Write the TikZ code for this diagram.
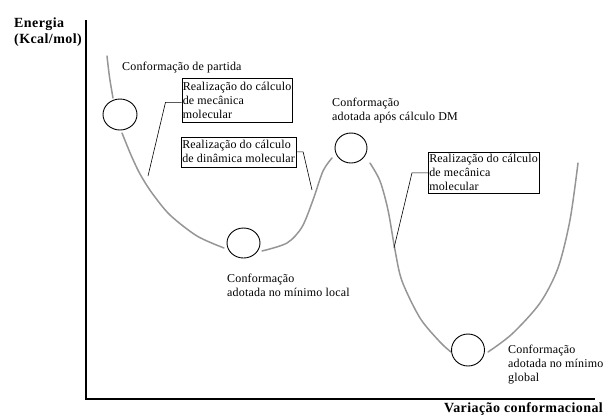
\documentclass[tikz,border=0pt]{standalone}
\usepackage{fontspec}
\setmainfont{Liberation Serif}
\newfontfamily\lblfont[LetterSpace=1.5]{Liberation Serif}
\newfontfamily\axfont[LetterSpace=3]{Liberation Serif}
\usetikzlibrary{shapes.geometric}
\definecolor{curvegray}{RGB}{150,150,150}
\tikzset{
  curve/.style={draw=curvegray, line width=1.5pt, line cap=round},
  well/.style={draw=black, line width=0.9pt, ellipse, inner sep=0pt},
  lbl/.style={anchor=north west, inner sep=0pt, align=left, font=\lblfont\fontsize{12}{14}\selectfont},
  callout/.style={draw=black, line width=0.6pt, anchor=north west, inner xsep=1pt, inner ysep=0pt, align=left, font=\lblfont\fontsize{12}{14}\selectfont},
  leader/.style={draw=black, line width=0.6pt},
  axis/.style={draw=black, line width=1.3pt},
  axlbl/.style={inner sep=0pt, align=left, font=\axfont\bfseries\fontsize{14}{16}\selectfont}
}
\begin{document}
\begin{tikzpicture}[x=1pt,y=-1pt]
\useasboundingbox (0,0) rectangle (605,416);
% axes
\coordinate (ytop) at (86,20);
\coordinate (orig) at (86,399);
\coordinate (xend) at (595,399);
\draw[axis] (ytop) -- (orig) -- (xend);
\node[axlbl, anchor=north west] (ylab) at (14,17.5) {Energia\\(Kcal/mol)};
\node[axlbl, anchor=base east] (xlab) at (603,412) {Variação conformacional};
% curve segments
\draw[curve] plot[smooth] coordinates {(107,56) (109.5,77) (113,98)};
\draw[curve] plot[smooth] coordinates {(122,133) (131,155) (140,174) (152,193) (170,215) (197,236) (224,248)};
\draw[curve] plot[smooth] coordinates {(262,251) (287,243) (302,227) (313,200) (323,171) (332,158)};
\draw[curve] plot[smooth] coordinates {(370,163) (380,181) (388,210) (395,250) (402,281) (420,318) (440,342) (451,352)};
\draw[curve] plot[smooth] coordinates {(488,352) (512,334) (540,303) (558,268) (570,220) (578,163)};
% circles
\node[well, minimum width=34pt, minimum height=31pt] (c1) at (120,114.5) {};
\node[well, minimum width=33pt, minimum height=30pt] (c2) at (243.5,243) {};
\node[well, minimum width=32pt, minimum height=30pt] (c3) at (351,148) {};
\node[well, minimum width=33pt, minimum height=32pt] (c4) at (468,350) {};
% labels
\node[lbl] (t0) at (122,62) {Conformação de partida};
\node[lbl] (t1) at (332,98) {Conformação\\adotada após cálculo DM};
\node[lbl] (t2) at (227,274) {Conformação\\adotada no mínimo local};
\node[lbl] (t3) at (508,345) {Conformação\\adotada no mínimo\\global};
% callout boxes
\node[callout, minimum width=109pt, minimum height=44pt] (b1) at (181.5,78) {Realização do cálculo\\de mecânica\\molecular};
\node[callout, minimum width=112pt, minimum height=30pt] (b2) at (181,136.5) {Realização do cálculo\\de dinâmica molecular};
\node[callout, minimum width=109pt, minimum height=41pt] (b3) at (428,152) {Realização do cálculo\\de mecânica\\molecular};
% leader lines
\coordinate (p1) at (148,176);
\coordinate (p2) at (312,190);
\coordinate (p3) at (394,248);
\draw[leader] ([yshift=-2pt]b1.west) -- ++(-16,0) -- (p1);
\draw[leader] (b2.east) -- ++(7,0) -- (p2);
\draw[leader] (b3.west) -- ++(-16,0) -- (p3);
\end{tikzpicture}
\end{document}
